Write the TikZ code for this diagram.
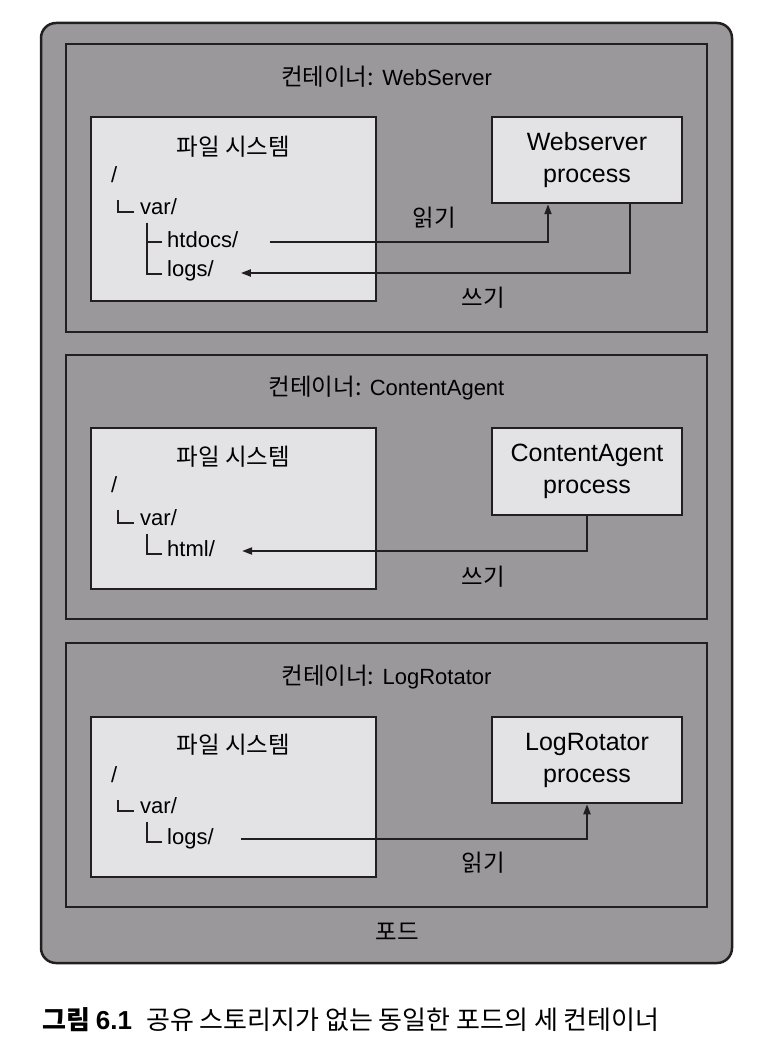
\documentclass[tikz,border=0pt]{standalone}
\usepackage{fontspec}
\setmainfont{Liberation Sans}
\newfontfamily\kr{Noto Sans CJK KR}
\usetikzlibrary{arrows.meta,positioning}
\definecolor{podgray}{HTML}{9B989C}
\definecolor{boxgray}{HTML}{E3E2E4}
\definecolor{inkdark}{HTML}{231F20}
\tikzset{
  podbox/.style={
    rectangle,
    rounded corners=15pt,
    draw=inkdark,
    fill=podgray,
    line width=2.5pt,
    inner sep=0pt,
    minimum width=691pt,
    minimum height=940pt
  },
  cbox/.style={
    rectangle,
    draw=inkdark,
    line width=2pt,
    inner sep=0pt,
    minimum width=641pt
  },
  fsbox/.style={
    rectangle,
    draw=inkdark,
    fill=boxgray,
    line width=2.5pt,
    inner sep=0pt,
    minimum width=285pt
  },
  procbox/.style={
    rectangle,
    draw=inkdark,
    fill=boxgray,
    line width=2.5pt,
    inner sep=0pt,
    minimum width=190pt,
    align=center,
    font=\fontsize{25}{32}\selectfont
  },
  ctitle/.style={inner sep=0pt, font=\fontsize{22}{26}\selectfont},
  fshead/.style={inner sep=0pt, font=\kr\fontsize{23.5}{28}\selectfont},
  treetext/.style={anchor=west, inner sep=0pt, text height=16pt, text depth=5pt, font=\fontsize{22}{26}\selectfont},
  tree/.style={line width=2pt, draw=inkdark},
  line/.style={-{Triangle[length=10pt,width=7pt]}, line width=2pt, draw=inkdark},
  lbl/.style={inner sep=0pt, font=\kr\fontsize{23.5}{28}\selectfont}
}

\begin{document}
\begin{tikzpicture}[x=1pt, y=-1pt]
  \useasboundingbox (0,0) rectangle (766,1064);
  \node[podbox] (pod) at (386.5,493) {};
  \node[lbl] (podname) at (397,932) {포드};

  % container: WebServer
  \node[cbox, minimum height=288pt] (web) at (386.5,188) {};
  \node[ctitle] (webtitle) at (386.5,77) {{\kr\fontsize{23.5}{28}\selectfont 컨테이너:} WebServer};
  \node[fsbox, minimum height=184pt] (fs1) at (233.5,209) {};
  \node[fshead] (fshead1) at (233.5,147) {파일 시스템};
  \node[procbox, minimum height=86pt] (proc1) at (587,160) {Webserver\\process};
  \node[treetext] (root1) at (111,177) {/};
  \node[treetext] (var1) at (140,209) {var/};
  \node[treetext] (htdocs1) at (167,242) {htdocs/};
  \node[treetext] (logs1) at (167,271) {logs/};
  \node[lbl] (read1) at (434,218) {읽기};
  \node[lbl] (write1) at (483,298) {쓰기};

  \draw[tree] ([yshift=-12pt]root1.south east) |- ([xshift=-6pt,yshift=-3pt]var1.west);
  \draw[tree] ([xshift=7pt,yshift=-3pt]var1.south west) |- ([xshift=-5pt]htdocs1.west);
  \draw[tree] ([xshift=7pt,yshift=-3pt]var1.south west) |- ([xshift=-5pt,yshift=-3pt]logs1.west);
  \draw[line] ([xshift=32pt]htdocs1.east) -| ([xshift=-39pt]proc1.south);
  \draw[line] ([xshift=43pt]proc1.south) |- ([xshift=27pt,yshift=-2pt]logs1.east);

  % container: ContentAgent
  \node[cbox, minimum height=264pt] (agent) at (386.5,487) {};
  \node[ctitle] (agenttitle) at (386.5,388) {{\kr\fontsize{23.5}{28}\selectfont 컨테이너:} ContentAgent};
  \node[fsbox, minimum height=161pt] (fs2) at (233.5,508.5) {};
  \node[fshead] (fshead2) at (233.5,457) {파일 시스템};
  \node[procbox, minimum height=87pt] (proc2) at (587,471.5) {ContentAgent\\process};
  \node[treetext] (root2) at (111,487) {/};
  \node[treetext] (var2) at (140,520) {var/};
  \node[treetext] (html2) at (167,551) {html/};
  \node[lbl] (write2) at (483,577) {쓰기};

  \draw[tree] ([yshift=-12pt]root2.south east) |- ([xshift=-6pt,yshift=-3pt]var2.west);
  \draw[tree] ([xshift=7pt,yshift=-3pt]var2.south west) |- ([xshift=-5pt,yshift=-3pt]html2.west);
  \draw[line] (proc2.south) |- ([xshift=27pt]html2.east);

  % container: LogRotator
  \node[cbox, minimum height=264pt] (rot) at (386.5,775) {};
  \node[ctitle] (rottitle) at (386.5,677) {{\kr\fontsize{23.5}{28}\selectfont 컨테이너:} LogRotator};
  \node[fsbox, minimum height=160pt] (fs3) at (233.5,797) {};
  \node[fshead] (fshead3) at (233.5,745) {파일 시스템};
  \node[procbox, minimum height=86pt] (proc3) at (587,760) {LogRotator\\process};
  \node[treetext] (root3) at (111,777) {/};
  \node[treetext] (var3) at (140,808) {var/};
  \node[treetext] (logs3) at (167,839) {logs/};
  \node[lbl] (read3) at (483,863) {읽기};

  \draw[tree] ([yshift=-12pt]root3.south east) |- ([xshift=-6pt,yshift=-3pt]var3.west);
  \draw[tree] ([xshift=7pt,yshift=-3pt]var3.south west) |- ([xshift=-5pt,yshift=-3pt]logs3.west);
  \draw[line] ([xshift=27pt]logs3.east) -| (proc3.south);

  \node[anchor=west, inner sep=0pt, font=\kr\fontsize{26}{30}\selectfont] (caption) at (42,1020)
    {{\bfseries 그림 \fontspec{Liberation Sans}6.1}\hspace{14pt}공유 스토리지가 없는 동일한 포드의 세 컨테이너};
\end{tikzpicture}
\end{document}
